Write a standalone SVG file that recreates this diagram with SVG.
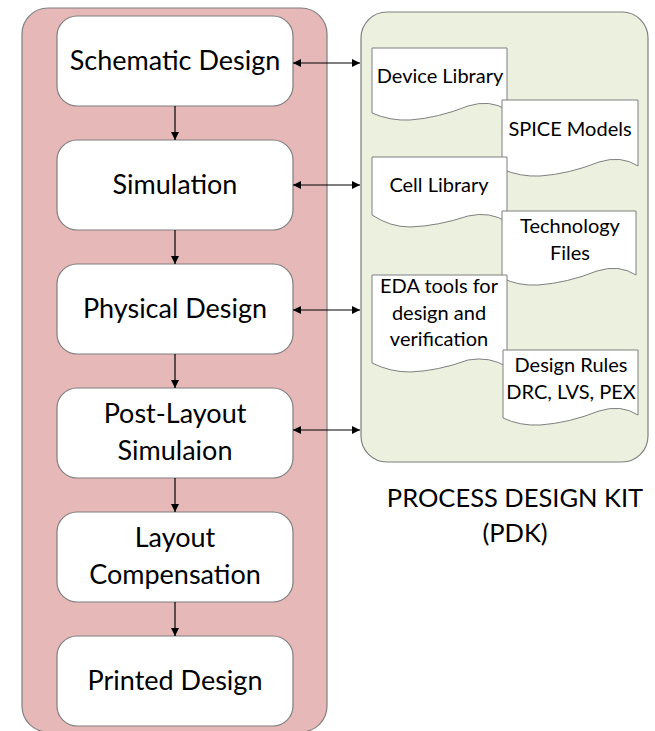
<svg xmlns="http://www.w3.org/2000/svg" width="655" height="731" viewBox="0 0 655 731">
  <style>
    .panel-flow { fill: #e6b8b7; stroke: #7f7f7f; stroke-width: 1.2; }
    .panel-pdk { fill: #ebf1de; stroke: #7f7f7f; stroke-width: 1.2; }
    .step { fill: #ffffff; stroke: #7f7f7f; stroke-width: 1.2; }
    .doc { fill: #ffffff; stroke: #7f7f7f; stroke-width: 1; }
    .t-step { font-family: Lato, "Open Sans", sans-serif; font-size: 27px; fill: #000; text-anchor: middle; }
    .t-doc { font-family: Lato, "Open Sans", sans-serif; font-size: 20px; fill: #000; text-anchor: middle; }
    .t-title { font-family: Lato, "Open Sans", sans-serif; font-size: 25.5px; fill: #000; text-anchor: middle; }
    .link { stroke: #000; stroke-width: 1.2; fill: none; }
  </style>
  <defs>
    <marker id="head" viewBox="0 0 10 10" refX="10" refY="5" markerWidth="8" markerHeight="8" markerUnits="userSpaceOnUse" orient="auto-start-reverse">
      <path d="M0,0 L10,5 L0,10 Z" fill="#000"/>
    </marker>
  </defs>

  <!-- background panels -->
  <rect class="panel-flow" x="22" y="8" width="305" height="724" rx="26"/>
  <rect class="panel-pdk" x="361" y="12" width="287" height="450" rx="26"/>

  <!-- design flow steps -->
  <g id="schematic-design">
    <rect class="step" x="57" y="16" width="236" height="90" rx="20"/>
    <text class="t-step" x="175" y="70">Schematic Design</text>
  </g>
  <g id="simulation">
    <rect class="step" x="57" y="140" width="236" height="90" rx="20"/>
    <text class="t-step" x="175" y="194">Simulation</text>
  </g>
  <g id="physical-design">
    <rect class="step" x="57" y="264" width="236" height="90" rx="20"/>
    <text class="t-step" x="175" y="318">Physical Design</text>
  </g>
  <g id="post-layout-simulation">
    <rect class="step" x="57" y="388" width="236" height="90" rx="20"/>
    <text class="t-step" x="175" y="423">Post-Layout</text>
    <text class="t-step" x="175" y="460">Simulaion</text>
  </g>
  <g id="layout-compensation">
    <rect class="step" x="57" y="512" width="236" height="90" rx="20"/>
    <text class="t-step" x="175" y="547">Layout</text>
    <text class="t-step" x="175" y="584">Compensation</text>
  </g>
  <g id="printed-design">
    <rect class="step" x="57" y="636" width="236" height="90" rx="20"/>
    <text class="t-step" x="175" y="690">Printed Design</text>
  </g>

  <!-- PDK documents -->
  <g id="device-library">
    <path class="doc" d="M372,48 H507 V110 Q490,99 468,106 Q438,118 410,120 Q390,121 372,113 Z"/>
    <text class="t-doc" x="440" y="83">Device Library</text>
  </g>
  <g id="spice-models">
    <path class="doc" d="M502,100 H638 V166 Q621,155 599,162 Q569,174 540,176 Q520,177 502,169 Z"/>
    <text class="t-doc" x="570" y="136">SPICE Models</text>
  </g>
  <g id="cell-library">
    <path class="doc" d="M372,157 H507 V222 Q490,211 468,216 Q438,226 410,227 Q390,227 372,215 Z"/>
    <text class="t-doc" x="439" y="192">Cell Library</text>
  </g>
  <g id="technology-files">
    <path class="doc" d="M502,211 H636 V275 Q619,264 597,271 Q567,283 538,285 Q518,286 502,278 Z"/>
    <text class="t-doc" x="570" y="233">Technology</text>
    <text class="t-doc" x="570" y="260">Files</text>
  </g>
  <g id="eda-tools">
    <path class="doc" d="M372,275 H507 V367 Q490,356 468,360 Q438,371 410,372 Q390,372 372,363 Z"/>
    <text class="t-doc" x="439" y="293">EDA tools for</text>
    <text class="t-doc" x="439" y="320">design and</text>
    <text class="t-doc" x="439" y="346">verification</text>
  </g>
  <g id="design-rules">
    <path class="doc" d="M503,350 H638 V415 Q621,404 599,411 Q569,423 540,425 Q520,426 503,418 Z"/>
    <text class="t-doc" x="571" y="372">Design Rules</text>
    <text class="t-doc" x="571" y="399">DRC, LVS, PEX</text>
  </g>

  <g id="pdk-title">
    <text class="t-title" x="515" y="507">PROCESS DESIGN KIT</text>
    <text class="t-title" x="515" y="542">(PDK)</text>
  </g>

  <!-- connectors -->
  <g id="connectors">
    <line class="link" x1="175" y1="106" x2="175" y2="140" marker-end="url(#head)"/>
    <line class="link" x1="175" y1="230" x2="175" y2="264" marker-end="url(#head)"/>
    <line class="link" x1="175" y1="354" x2="175" y2="388" marker-end="url(#head)"/>
    <line class="link" x1="175" y1="478" x2="175" y2="512" marker-end="url(#head)"/>
    <line class="link" x1="175" y1="602" x2="175" y2="636" marker-end="url(#head)"/>
    <line class="link" x1="293" y1="63" x2="360" y2="63" marker-start="url(#head)" marker-end="url(#head)"/>
    <line class="link" x1="293" y1="185" x2="360" y2="185" marker-start="url(#head)" marker-end="url(#head)"/>
    <line class="link" x1="293" y1="310" x2="360" y2="310" marker-start="url(#head)" marker-end="url(#head)"/>
    <line class="link" x1="293" y1="430" x2="360" y2="430" marker-start="url(#head)" marker-end="url(#head)"/>
  </g>
</svg>
